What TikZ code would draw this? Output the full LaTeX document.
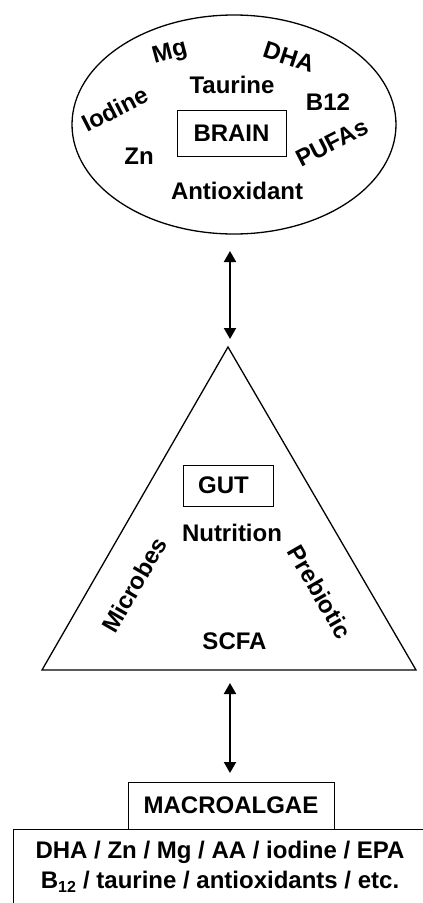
\documentclass[tikz,border=0pt]{standalone}
\usepackage{fontspec}
\setmainfont{Liberation Sans}
\usetikzlibrary{arrows.meta,shapes.geometric}
\begin{document}
\begin{tikzpicture}[x=1pt,y=-1pt,
  font=\fontsize{24}{28}\selectfont\bfseries,
  lbl/.style={inner sep=0pt},
  framebox/.style={draw, line width=1pt, inner sep=0pt},
  outline/.style={line width=1.3pt},
  link/.style={line width=2pt, {Triangle[width=12pt,length=11pt]}-{Triangle[width=12pt,length=11pt]}}]
\useasboundingbox (0,0) rectangle (423,903);

% BRAIN ellipse
\node[ellipse, draw, outline, minimum width=324pt, minimum height=219pt, inner sep=0pt] (brainell) at (234,124.5) {};
\node[framebox, minimum width=109pt, minimum height=46pt] (brain) at (231.5,133) {BRAIN};
\node[lbl] (taurine) at (232,85) {Taurine};
\node[lbl, rotate=15] (mg) at (170,53) {Mg};
\node[lbl, rotate=-18] (dha) at (289,57) {DHA};
\node[lbl, rotate=27] (iodine) at (115,109) {Iodine};
\node[lbl] (b12) at (328,102) {B12};
\node[lbl] (zn) at (139,156) {Zn};
\node[lbl, rotate=27] (pufas) at (332,143) {PUFAs};
\node[lbl] (antiox) at (237,191) {Antioxidant};

% GUT triangle
\coordinate (apex) at (228,347);
\coordinate (bright) at (416,670);
\coordinate (bleft) at (42,670);
\draw[outline, line join=miter] (apex) -- (bright) -- (bleft) -- cycle;
\node[framebox, minimum width=90pt, minimum height=41pt] (gut) at (228,485.5) {GUT\hspace*{9pt}};
\node[lbl] (nutrition) at (232,533) {Nutrition};
\node[lbl, rotate=60] (microbes) at (134,585) {Microbes};
\node[lbl, rotate=-60] (prebiotic) at (320,592) {Prebiotic};
\node[lbl] (scfa) at (234.5,641) {SCFA};

% arrows
\coordinate (a1s) at (230,251);
\coordinate (a1e) at (230,339);
\draw[link] (a1s) -- (a1e);
\coordinate (a2s) at (230,683);
\coordinate (a2e) at (230,773);
\draw[link] (a2s) -- (a2e);

% MACROALGAE
\node[framebox, minimum width=206pt, minimum height=47pt] (macro) at (231,805.5) {MACROALGAE};
\coordinate (fl) at (13,903);
\coordinate (ftl) at (13,829);
\coordinate (ftr) at (423,829);
\draw[line width=1pt] (fl) -- (ftl) -- (ftr);
\node[lbl, align=center] (list) at (220,867) {DHA / Zn / Mg / AA / iodine / EPA\\[2pt]B\textsubscript{\fontsize{16}{16}\selectfont 12} / taurine / antioxidants / etc.};
\end{tikzpicture}
\end{document}
